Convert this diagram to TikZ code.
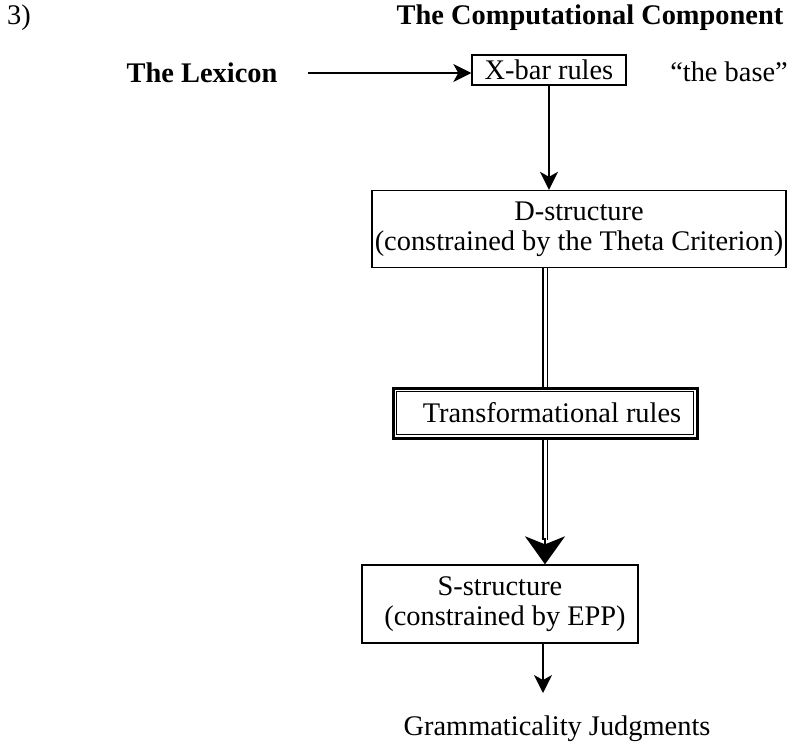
\documentclass[tikz,border=0pt]{standalone}
\usepackage{fontspec}
\setmainfont{Liberation Serif}
\usetikzlibrary{arrows.meta,positioning,calc}

\begin{document}
\begin{tikzpicture}[
  x=0.5pt,y=-0.5pt,
  font=\fontsize{14.2}{15}\selectfont,
  box/.style={draw,line width=0.7pt,align=center,inner sep=0pt},
  twobox/.style={draw,line width=1.5pt,align=center,inner sep=0pt},
  flow/.style={line width=0.7pt,-{Stealth[length=9pt,width=9pt,inset=2.5pt]}},
  dbl/.style={draw,line width=0.85pt,double,double distance=1.5pt},
  bigtip/.style={line width=0.7pt,-{Stealth[length=14pt,width=20pt,inset=4pt]}}]
\useasboundingbox (0,0) rectangle (807,746);

\node (num) at (19,18) {3)};
\node[font=\fontsize{14.2}{15}\selectfont\bfseries] (comp) at (590,18) {The Computational Component};
\node[font=\fontsize{14.2}{15}\selectfont\bfseries] (lex) at (202,73) {The Lexicon};
\node[box,minimum width=77pt,minimum height=15pt] (xbar) at (549,70) {X-bar rules};
\node (base) at (729,72) {``the base''};
\node[box,minimum width=207pt,minimum height=38.5pt] (dst) at (579,229)
     {D-structure\\(constrained by the Theta Criterion)};
\node[twobox,minimum width=152pt,minimum height=25pt] (trans) at (545,413)
     {\hspace{7pt}Transformational rules};
\draw[line width=0.7pt] ($(trans.north west)+(5,5)$) rectangle ($(trans.south east)+(-5,-5)$);
\node[box,minimum width=138pt,minimum height=39pt] (sst) at (500,604)
     {S-structure\\\hspace{5pt}(constrained by EPP)};
\node (gram) at (557,729) {Grammaticality Judgments};

\draw[flow,shorten <=12pt] (lex.east) -- (lex.east -| xbar.west);
\draw[flow] (xbar.south) -- (xbar.south |- dst.north);
\draw[dbl] (trans.north |- dst.south) -- (trans.north);
\draw[dbl,shorten >=12pt] (trans.south) -- (trans.south |- sst.north);
\coordinate (tiptop) at ($(trans.south |- sst.north)+(0,-26)$);
\draw[bigtip] (tiptop) -- (tiptop |- sst.north);
% arrow out of S-structure sits left of the box centre, as in the source
\coordinate (gtop) at (543,693);
\draw[flow] (gtop |- sst.south) -- (gtop);
\end{tikzpicture}
\end{document}
